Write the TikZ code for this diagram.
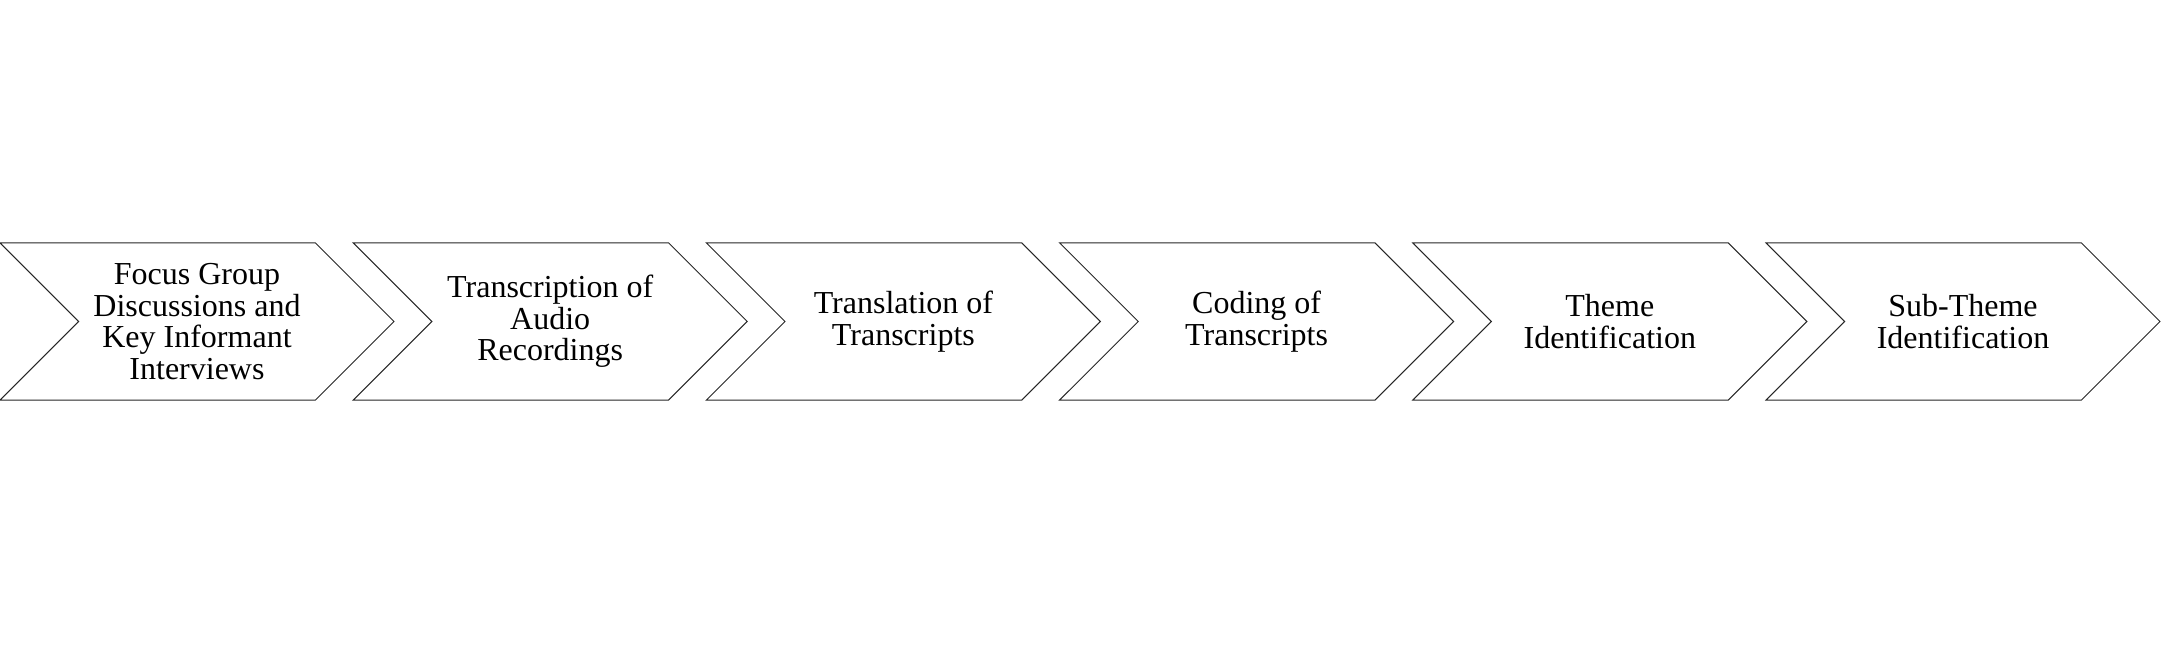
\documentclass[tikz,border=0pt]{standalone}
\usepackage{fontspec}
\setmainfont{Liberation Serif}
\usetikzlibrary{shapes.symbols}
\begin{document}
\begin{tikzpicture}[x=0.5pt,y=0.5pt,
	stepchev/.style={signal, draw=black!85, line width=0.5pt, signal from=west, signal to=east, signal pointer angle=90, minimum width=197pt, minimum height=78.6pt, inner sep=0pt, align=center, font=\fontsize{16}{15.7}\selectfont}]
	\useasboundingbox (0,0) rectangle (2167,646);
	\node[stepchev] (fgd) at (197,324.5) {Focus Group\\Discussions and\\Key Informant\\Interviews};
	\node[stepchev] (transcr) at (550.2,324.5) {Transcription of\\Audio\\Recordings};
	\node[stepchev] (transl) at (903.4,324.5) {Translation of\\Transcripts};
	\node[stepchev] (coding) at (1256.6,324.5) {Coding of\\Transcripts};
	\node[stepchev] (theme) at (1609.8,324.5) {Theme\\Identification};
	\node[stepchev] (subtheme) at (1963,324.5) {Sub-Theme\\Identification};
\end{tikzpicture}
\end{document}
